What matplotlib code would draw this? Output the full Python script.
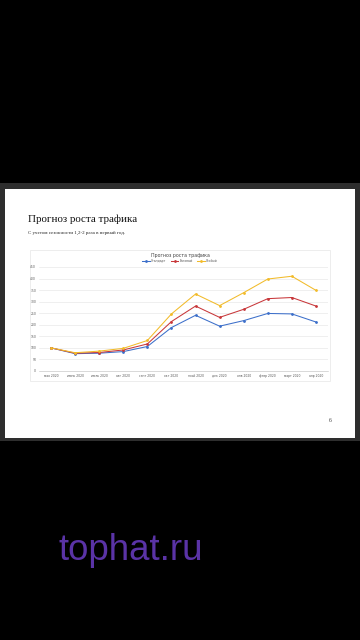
import matplotlib
matplotlib.use("Agg")
import matplotlib.pyplot as plt
from matplotlib.patches import Rectangle

months = ["мая 2020", "июнь 2020", "июль 2020", "авг 2020", "сент 2020", "окт 2020",
          "нояб 2020", "дек 2020", "янв 2020", "февр 2020", "март 2020", "апр 2020"]
standard = [100, 75, 77, 84, 106, 188, 241, 194, 218, 249, 247, 212]
base = [100, 77, 80, 91, 117, 214, 281, 232, 267, 313, 318, 281]
special = [100, 79, 86, 98, 132, 247, 333, 283, 339, 398, 410, 349]
series_names = ["Стандарт", "Базовый", "Особый"]
yticks = [0, 50, 100, 150, 200, 250, 300, 350, 400, 450]

W, H = 360, 640
fig = plt.figure(figsize=(3.6, 6.4), dpi=100)
fig.patch.set_facecolor("black")

def px(x, y, w, h):
    return (x / W, 1 - (y + h) / H, w / W, h / H)

# slide
x0, y0, w0, h0 = px(0, 183, 360, 258)
fig.patches.append(Rectangle((x0, y0), w0, h0, transform=fig.transFigure,
                             facecolor="#2e2e2e", edgecolor="none", zorder=-3))
x0, y0, w0, h0 = px(5, 189, 350, 249)
fig.patches.append(Rectangle((x0, y0), w0, h0, transform=fig.transFigure,
                             facecolor="white", edgecolor="none", zorder=-2))
# chart box
x0, y0, w0, h0 = px(30, 250, 300, 131)
fig.patches.append(Rectangle((x0, y0), w0, h0, transform=fig.transFigure,
                             facecolor="white", edgecolor="#e6e6e6", linewidth=0.5, zorder=-1))

fig.text(28 / W, 1 - 219 / H, "Прогноз роста трафика", family="Liberation Serif",
         fontsize=7.9, color="#111111", va="center", ha="left")
fig.text(28 / W, 1 - 233 / H, "С учетом сезонности 1,2-2 раза в первый год.",
         family="Liberation Serif", fontsize=3.6, color="#222222", va="center", ha="left")
fig.text(330 / W, 1 - 420 / H, "6", family="Liberation Serif", fontsize=4,
         color="#333333", va="center", ha="center")
fig.text(180 / W, 1 - 256 / H, "Прогноз роста трафика", fontsize=3.4,
         color="#444444", va="center", ha="center")
fig.text(58 / W, 1 - 551 / H, "tophat.ru", family="Liberation Sans", fontsize=26.4,
         color="#5a33a6", va="center", ha="left")

ax = fig.add_axes(px(39, 267, 289, 104))
ax.set_zorder(1)
x = list(range(len(months)))
colors = ["#3c6fca", "#c8373a", "#f2bb2a"]
for vals, c, name in zip([standard, base, special], colors, series_names):
    ax.plot(x, vals, color=c, linewidth=0.75, marker="o", markersize=1.0, label=name)
ax.set_xlim(-0.5, len(months) - 0.5)
ax.set_ylim(0, 450)
ax.set_yticks(yticks)
ax.set_xticks(x)
ax.set_xticklabels(months)
ax.tick_params(axis="both", length=0, labelsize=2.2, colors="#555555", pad=2)
ax.grid(axis="y", color="#e4e4e4", linewidth=0.4)
ax.set_axisbelow(True)
for s in ["top", "right", "left"]:
    ax.spines[s].set_visible(False)
ax.spines["bottom"].set_color("#bbbbbb")
ax.spines["bottom"].set_linewidth(0.4)
ax.set_facecolor("white")

leg = fig.legend(loc="center", bbox_to_anchor=(180 / W, 1 - 261 / H), ncol=3,
                 fontsize=2.2, frameon=False, handlelength=2.5, columnspacing=1.5,
                 handletextpad=0.4, markerscale=1)
for t in leg.get_texts():
    t.set_color("#555555")

fig.savefig("out.png", dpi=100, facecolor="black")
